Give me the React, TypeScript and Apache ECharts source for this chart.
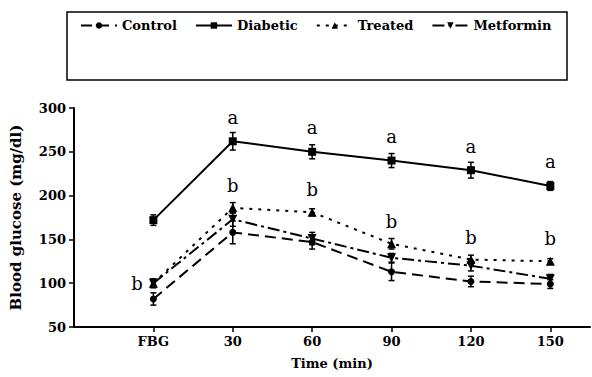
import React, { useEffect, useRef } from "react";
import * as echarts from "echarts";

const categories = ["FBG", "30", "60", "90", "120", "150"];
const timePoints = [0, 30, 60, 90, 120, 150];

const controlValues = [82, 158, 147, 113, 102, 99];
const diabeticValues = [172, 262, 250, 240, 229, 211];
const treatedValues = [100, 186, 181, 145, 127, 125];
const metforminValues = [100, 173, 151, 129, 120, 105];

const controlErr = [7, 13, 8, 10, 6, 5];
const diabeticErr = [6, 10, 8, 8, 9, 5];
const treatedErr = [5, 6, 4, 6, 5, 3];
const metforminErr = [5, 8, 7, 5, 6, 5];

const diabeticLetters = ["", "a", "a", "a", "a", "a"];
const treatedLetters = ["b", "b", "b", "b", "b", "b"];

const yTicks = [50, 100, 150, 200, 250, 300];

const FONT = "DejaVu Serif";

export default function App() {
  const ref = useRef<HTMLDivElement>(null);

  useEffect(() => {
    document.body.style.margin = "0";
    if (!ref.current) return;
    const chart = echarts.init(ref.current, undefined, { renderer: "svg" });

    const errSeries = (name: string, vals: number[], errs: number[]) => ({
      type: "custom",
      name: name + "-err",
      z: 1,
      silent: true,
      data: vals.map((v, i) => [timePoints[i], v, errs[i]]),
      renderItem: (params: any, api: any) => {
        const x = api.value(0);
        const y = api.value(1);
        const e = api.value(2);
        const top = api.coord([x, y + e]);
        const bot = api.coord([x, y - e]);
        const cw = 3;
        return {
          type: "group",
          children: [
            { type: "line", shape: { x1: top[0], y1: top[1], x2: bot[0], y2: bot[1] }, style: { stroke: "#000", lineWidth: 1.5 } },
            { type: "line", shape: { x1: top[0] - cw, y1: top[1], x2: top[0] + cw, y2: top[1] }, style: { stroke: "#000", lineWidth: 1.5 } },
            { type: "line", shape: { x1: bot[0] - cw, y1: bot[1], x2: bot[0] + cw, y2: bot[1] }, style: { stroke: "#000", lineWidth: 1.5 } },
          ],
        };
      },
    });

    const letterLabel = {
      show: true,
      position: "top",
      distance: 10,
      color: "#000",
      fontFamily: FONT,
      fontSize: 18,
    };

    const option: any = {
      animation: false,
      backgroundColor: "#fff",
      graphic: [
        {
          type: "rect",
          shape: { x: 67, y: 12, width: 500, height: 68 },
          style: { fill: "none", stroke: "#000", lineWidth: 1.5 },
          z: 0,
        },
      ],
      legend: {
        data: ["Control", "Diabetic", "Treated", "Metformin"],
        left: 80,
        top: 19,
        padding: 0,
        itemWidth: 36,
        itemHeight: 8,
        itemGap: 18,
        textStyle: { fontFamily: FONT, fontWeight: "bold", fontSize: 13, color: "#000" },
      },
      grid: { left: 71, right: 2, top: 108, bottom: 50 },
      xAxis: {
        type: "value",
        min: -30,
        max: 165,
        interval: 30,
        name: "Time (min)",
        nameLocation: "middle",
        nameGap: 30,
        nameTextStyle: { fontFamily: FONT, fontWeight: "bold", fontSize: 13, color: "#000" },
        axisLine: { onZero: false, lineStyle: { color: "#000", width: 2 } },
        axisTick: { customValues: timePoints, length: 5, lineStyle: { color: "#000", width: 1.5 } },
        axisLabel: {
          customValues: timePoints,
          margin: 8,
          fontFamily: FONT,
          fontWeight: "bold",
          fontSize: 13,
          color: "#000",
          formatter: (v: number) => {
            const i = timePoints.indexOf(v);
            return i >= 0 ? categories[i] : "";
          },
        },
        splitLine: { show: false },
      },
      yAxis: {
        type: "value",
        min: 50,
        max: 300,
        interval: 50,
        name: "Blood glucose (mg/dl)",
        nameLocation: "middle",
        nameGap: 51,
        nameTextStyle: { fontFamily: FONT, fontWeight: "bold", fontSize: 15, color: "#000" },
        axisLine: { show: true, onZero: false, lineStyle: { color: "#000", width: 2 } },
        axisTick: { show: true, length: 5, lineStyle: { color: "#000", width: 1.5 } },
        axisLabel: {
          margin: 8,
          fontFamily: FONT,
          fontWeight: "bold",
          fontSize: 13,
          color: "#000",
          formatter: (v: number) => (yTicks.includes(v) ? String(v) : ""),
        },
        splitLine: { show: false },
      },
      series: [
        errSeries("Control", controlValues, controlErr),
        errSeries("Diabetic", diabeticValues, diabeticErr),
        errSeries("Treated", treatedValues, treatedErr),
        errSeries("Metformin", metforminValues, metforminErr),
        {
          type: "line",
          name: "Control",
          z: 3,
          data: controlValues.map((v, i) => [timePoints[i], v]),
          symbol: "circle",
          symbolSize: 7,
          itemStyle: { color: "#000" },
          lineStyle: { color: "#000", width: 2, type: [11, 6] },
        },
        {
          type: "line",
          name: "Diabetic",
          z: 3,
          data: diabeticValues.map((v, i) => [timePoints[i], v]),
          symbol: "rect",
          symbolSize: 8,
          itemStyle: { color: "#000" },
          lineStyle: { color: "#000", width: 2, type: "solid" },
          label: { ...letterLabel, distance: 11, formatter: (p: any) => diabeticLetters[p.dataIndex] },
        },
        {
          type: "line",
          name: "Treated",
          z: 3,
          data: treatedValues.map((v, i) =>
            i === 0
              ? { value: [timePoints[i], v], label: { position: "left", distance: 6 } }
              : { value: [timePoints[i], v] }
          ),
          symbol: "triangle",
          symbolSize: 9,
          itemStyle: { color: "#000" },
          lineStyle: { color: "#000", width: 2, type: [3, 6] },
          label: { ...letterLabel, distance: 9, formatter: (p: any) => treatedLetters[p.dataIndex] },
        },
        {
          type: "line",
          name: "Metformin",
          z: 3,
          data: metforminValues.map((v, i) => [timePoints[i], v]),
          symbol: "triangle",
          symbolRotate: 180,
          symbolSize: 9,
          itemStyle: { color: "#000" },
          lineStyle: { color: "#000", width: 2, type: [12, 4, 3, 4] },
        },
      ],
    };

    chart.setOption(option);
    return () => chart.dispose();
  }, []);

  return <div ref={ref} style={{ width: 592, height: 377 }} />;
}
